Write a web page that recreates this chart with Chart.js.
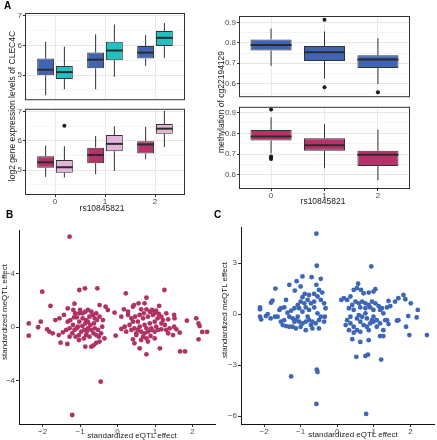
<!DOCTYPE html>
<html><head><meta charset="utf-8">
<script src="https://cdn.jsdelivr.net/npm/chart.js@4.4.1/dist/chart.umd.min.js"></script>
<style>
html,body{margin:0;padding:0;background:#fff;width:437px;height:440px;overflow:hidden;font-family:"Liberation Sans",Arial,sans-serif;}
.c{position:absolute;}
.t{position:absolute;white-space:nowrap;color:#1a1a1a;font-size:8.5px;line-height:1;}
.rot{transform:translate(-50%,-50%) rotate(-90deg);}
.hc{transform:translate(-50%,-50%);}
.lab{position:absolute;font-weight:bold;font-size:10px;line-height:1;color:#000;}
</style></head><body>
<div class="c" style="left:0;top:0;width:190px;height:106px"><canvas id="aTop"></canvas></div>
<div class="c" style="left:0;top:103px;width:190px;height:117px"><canvas id="aBot"></canvas></div>
<div class="c" style="left:215px;top:0;width:222px;height:103px"><canvas id="rTop"></canvas></div>
<div class="c" style="left:215px;top:101px;width:222px;height:119px"><canvas id="rBot"></canvas></div>
<div class="c" style="left:0;top:220px;width:218px;height:220px"><canvas id="sB"></canvas></div>
<div class="c" style="left:218px;top:220px;width:219px;height:220px"><canvas id="sC"></canvas></div>

<div class="lab" style="left:4px;top:1px">A</div>
<div class="lab" style="left:6px;top:210px">B</div>
<div class="lab" style="left:214px;top:210px">C</div>
<div class="t rot" style="left:12px;top:106px">log2 gene expression levels of CLEC4C</div>
<div class="t rot" style="left:221px;top:102px">methylation of cg22194129</div>
<div class="t hc" style="left:102px;top:208px">rs10845821</div>
<div class="t hc" style="left:323px;top:201px">rs10845821</div>
<div class="t rot" style="left:5px;top:312px;font-size:8px">standardized meQTL effect</div>
<div class="t rot" style="left:225px;top:310px;font-size:8px">standardized meQTL effect</div>
<div class="t hc" style="left:132px;top:436px;font-size:8px">standardized eQTL effect</div>
<div class="t hc" style="left:353px;top:435px;font-size:8px">standardized eQTL effect</div>

<script>
// ---------- data ----------
const genotypes = [0, 1, 2];
const genoLabels = ['0', '1', '2'];
// box stats per genotype: [lower whisker, Q1, median, Q3, upper whisker]
const exprTopBlue = [[4.32,4.99,5.18,5.56,6.13],[4.52,5.23,5.52,5.76,6.38],[5.31,5.56,5.76,5.98,6.35]];
const exprTopTeal = [[4.52,4.87,5.10,5.31,5.96],[4.94,5.50,5.83,6.13,6.71],[5.58,5.98,6.26,6.49,6.76]];
const exprBotMagenta = [[4.77,5.08,5.27,5.48,5.84],[4.86,5.24,5.52,5.77,6.17],[5.37,5.57,5.88,5.99,6.48]];
const exprBotPink = [[4.75,4.91,5.10,5.35,5.82],[4.97,5.65,5.90,6.20,6.50],[5.79,6.25,6.42,6.58,7.03]];
const exprBotPinkOutliers = [[6.52],[],[]];
const methTopBlue = [[0.687,0.762,0.789,0.817,0.870],[0.624,0.711,0.754,0.784,0.856],[0.598,0.676,0.718,0.739,0.823]];
const methTopBlueOutliers = [[],[0.914,0.582],[0.557]];
const methBotMagenta = [[0.703,0.765,0.785,0.816,0.877],[0.631,0.716,0.742,0.776,0.845],[0.573,0.642,0.696,0.716,0.818]];
const methBotMagentaOutliers = [[0.915,0.688,0.682,0.676],[],[]];
const exprTicks = [5, 6, 7];
const exprMinor = [4.5, 5.5, 6.5];
const methTicks = [0.6, 0.7, 0.8, 0.9];
const methMinor = [0.55, 0.65, 0.75, 0.85];
const effTicks = [-2, -1, 0, 1, 2];
const effTickLabels = ['\u22122', '\u22121', '0', '1', '2'];
const bYTicks = [-4, 0, 4];
const bYTickLabels = ['\u22124', '0', '\u22124'];
const cYTicks = [-6, -3, 0, 3];
const cYTickLabels = ['\u22126', '\u22123', '0', '3'];
// [standardized eQTL effect, standardized meQTL effect]
const bPoints = [
[-1.28,6.74],[-0.45,-4.08],[-1.21,-6.57],
[-2.01,2.64],[-1.02,2.76],[-0.87,2.89],[-0.54,2.89],[0.22,2.51],[1.25,2.76],[0.77,2.19],
[-1.79,1.57],[-2.37,0.27],[-2.37,-0.65],[-2.12,-0.02],[-2.05,0.4],
[1.85,0.47],[2.1,0.65],[2.16,0.27],[2.19,0.07],[2.26,-0.37],[2.39,-0.37],[2.16,-0.92],[1.67,-1.82],[1.8,-1.82],[0.77,-2.04],[1.13,-1.59],[0.59,-1.59],
[-1.52,-1.17],[-1.34,-1.27],[-0.86,-1.47],[-0.64,-1.37],[-0.57,-1.19],
[-1.88,-0.17],[-1.82,-0.35],[-1.73,-0.47],[-1.66,0.52],[-1.55,0.65],[-1.43,0.9],[-1.46,-0.4],[-1.57,-0.6],[-1.33,1.39],[-1.18,1.27],
[-1.26,0.52],[-1.19,0.15],[-1.13,1.02],[-1.09,0.72],[-1.02,1.02],[-0.93,1.02],[-0.86,1.14],[-0.79,1.27],[-0.7,1.14],[-0.66,0.9],
[-0.75,0.77],[-0.84,0.52],[-0.93,0.65],[-1.02,0.4],[-1.06,0.02],[-1.15,-0.22],[-1.21,-0.47],[-1.12,-0.72],[-1.03,-0.6],[-0.97,-0.35],
[-0.88,-0.22],[-0.79,-0.1],[-0.7,-0.22],[-0.64,-0.47],[-0.57,-0.6],[-0.5,-0.72],[-0.44,-0.47],[-0.35,-0.85],[-0.48,-1.09],[-0.7,-1.47],
[-0.48,1.64],[-0.32,1.52],[-0.26,1.27],[-0.08,1.07],[-0.05,-0.65],[-0.57,1.02],[-0.48,0.77],[-0.39,0.52],[-0.55,0.52],[-0.63,0.27],
[-0.73,0.15],[-0.86,0.27],[-0.94,0.07],[-1.09,-0.1],[-1.28,-0.1],[-1.37,-0.22],[-1.28,-0.72],[-0.84,-0.6],[-0.75,-0.72],[-0.9,-0.85],
[-1.03,-0.97],[-0.82,-0.35],[-0.61,-0.1],[-0.52,-0.22],[-0.41,0.02],[-1.16,0.72],[-1.33,0.4],[-1.0,1.27],[-0.79,0.4],[-0.61,0.65],[-1.15,1.74],
[0.17,1.32],[0.1,0.77],[0.28,1.14],[0.41,1.52],[0.44,1.64],[0.56,1.77],[0.72,1.77],[0.63,1.32],[0.77,1.32],[0.92,1.27],[1.03,1.22],
[1.11,1.57],[1.1,0.97],[0.28,0.9],[0.37,0.65],[0.47,0.77],[0.59,0.9],[0.68,0.65],[0.81,0.77],[0.94,0.9],[1.07,0.65],[1.21,0.52],
[1.35,0.57],[1.51,0.9],[1.52,0.65],[0.45,-1.22],[0.41,-0.92],[0.5,-0.6],[0.23,-0.35],[0.1,-0.15],[0.19,0.02],[0.32,0.15],[0.37,-0.22],
[0.45,-0.1],[0.54,-0.22],[0.63,-0.35],[0.72,-0.47],[0.81,-0.35],[0.9,-0.22],[0.99,-0.35],[1.08,-0.22],[1.17,-0.17],[1.3,-0.22],[1.39,-0.1],
[1.51,0.02],[1.57,-0.17],[1.66,-0.42],[1.48,-0.6],[1.35,-0.47],[0.68,-0.72],[0.77,-0.85],[0.88,-0.67],[0.99,-0.85],[0.63,-0.97],[0.81,-1.09],
[0.59,0.02],[0.72,0.15],[0.86,0.27],[0.99,0.4],[1.17,0.27],[1.26,0.15],[0.54,0.4],[0.41,0.4],[0.7,1.02],[0.86,1.14],[0.99,1.02],
[1.17,0.77],[1.3,1.02],[1.03,0.02],[0.9,-0.1],[0.77,-0.1],[0.5,-0.47]
];
const cPoints = [
[-0.57,4.73],[-0.56,2.84],[0.93,2.8],[-0.56,-3.27],[-0.54,-3.41],[-1.26,-3.67],[-0.57,-5.29],[0.79,-5.88],
[0.52,-2.52],[0.77,-2.47],[0.84,-2.39],[1.2,-2.68],[2.45,-1.24],[1.97,-1.24],[1.17,-1.3],[1.26,-1.3],[0.63,-1.64],[0.41,-1.48],[0.86,-1.54],
[1.88,-0.75],[2.17,-0.2],[2.2,0.24],[2.01,0.63],[1.94,-0.12],[1.81,1.12],[1.86,0.87],[1.67,0.93],[1.58,0.73],[1.45,0.47],[1.36,0.39],
[1.4,0.77],[1.67,-0.36],[1.63,-0.39],[1.4,-0.59],[1.36,-0.36],
[-2.11,0.39],[-2.11,0.28],[-2.11,-0.16],[-2.08,-0.32],[-1.95,-0.12],[-1.9,0],[-1.82,-0.26],[-1.81,0.67],[-1.77,0.79],[-1.69,1.5],
[-1.7,-0.16],[-1.63,-0.16],[-1.58,0.24],[-1.54,0.34],[-1.45,0.39],[-1.4,0.83],[-1.31,1.72],[-1.11,1.93],[-0.95,2.21],[-0.7,2.17],
[-0.45,2.07],[-0.57,1.72],[-0.5,1.42],[-0.41,1.26],[-1.0,1.62],[-1.16,1.38],[-1.49,-0.65],[-1.4,-0.71],[-1.31,-0.75],[-1.22,-0.75],
[-1.13,-0.85],[-0.86,-0.95],[-0.68,-0.85],[-0.5,-0.85],[-0.36,-0.45],[-0.34,-0.16],[-0.32,0.34],[-0.36,0.63],[-0.45,0.83],[-0.54,1.03],
[-0.63,1.18],[-0.77,1.12],[-0.89,1.18],[-0.95,0.99],[-1.0,0.73],[-1.08,0.53],[-1.17,0.34],[-1.26,0.2],[-1.36,0.08],[-1.31,-0.16],
[-1.22,-0.26],[-1.13,-0.36],[-1.04,-0.45],[-0.95,-0.55],[-0.86,-0.45],[-0.77,-0.36],[-0.68,-0.45],[-0.59,-0.55],[-0.5,-0.36],[-0.45,-0.16],
[-0.54,0.04],[-0.63,0.39],[-0.72,0.63],[-0.81,0.83],[-0.63,0.73],[-0.86,0.39],[-0.95,0.14],[-1.08,-0.16],[-0.81,-0.16],[-0.72,-0.65],
[-1.0,-0.75],[-1.17,-0.45],[-1.45,-0.36],[-1.54,-0.45],[-0.9,0.63],[-1.04,0.34],[-0.77,0.24],
[0.11,0.83],[0.18,0.93],[0.27,0.83],[0.36,1.03],[0.45,1.42],[0.54,1.52],[0.57,1.78],[0.65,1.42],[0.72,1.22],[0.86,1.26],[0.99,1.32],
[1.04,1.46],[0.32,0.34],[0.41,0.53],[0.5,0.73],[0.59,0.63],[0.68,0.73],[0.77,0.63],[0.86,0.53],[0.95,0.73],[1.04,0.63],[1.13,0.47],
[1.22,0.34],[0.63,0.39],[0.77,0.34],[0.9,0.39],[0.99,0.24],[0.27,-0.36],[0.36,-0.55],[0.45,-0.75],[0.54,-0.95],[0.63,-0.45],[0.72,-0.65],
[0.81,-0.75],[0.9,-0.55],[0.99,-0.45],[1.08,-0.36],[1.17,-0.55],[0.54,-0.26],[0.68,-0.16],[0.81,-0.26],[0.95,-0.36],[0.36,-0.16],
[0.23,-0.65],[0.45,-1.1],[0.63,-1.05],[0.86,-0.95],[1.26,-0.95],[1.31,-0.36],[1.26,0.04],[1.17,0.24],[0.45,0.24],[0.77,0.04],
[0.59,-0.06],[0.99,-0.16],[1.08,-0.75],[0.32,-0.95]
];

// ---------- style ----------
const FONT = "'Liberation Sans', Arial, sans-serif";
Chart.defaults.font.family = FONT;
Chart.defaults.font.size = 8;
Chart.defaults.color = '#4d4d4d';
Chart.defaults.animation = false;

const isIn = (arr, v) => arr.some(m => Math.abs(m - v) < 1e-6);

const frame = {
  id: 'frame',
  afterDraw(chart) {
    const {ctx, chartArea: a} = chart;
    ctx.save();
    ctx.strokeStyle = '#333';
    ctx.lineWidth = 1;
    ctx.strokeRect(a.left + 0.5, a.top + 0.5, a.right - a.left - 1, a.bottom - a.top - 1);
    ctx.restore();
  }
};

const boxExtras = {
  id: 'boxExtras',
  afterDatasetsDraw(chart) {
    const {ctx} = chart;
    const ys = chart.scales.y;
    chart.data.datasets.forEach((ds, i) => {
      if (!ds.stats) return;
      const meta = chart.getDatasetMeta(i);
      meta.data.forEach((el, j) => {
        const s = ds.stats[j];
        const p = el.getProps(['x', 'width'], true);
        ctx.save();
        ctx.strokeStyle = '#333';
        ctx.lineWidth = 1;
        ctx.beginPath();
        ctx.moveTo(p.x, ys.getPixelForValue(s[3]));
        ctx.lineTo(p.x, ys.getPixelForValue(s[4]));
        ctx.moveTo(p.x, ys.getPixelForValue(s[1]));
        ctx.lineTo(p.x, ys.getPixelForValue(s[0]));
        ctx.stroke();
        ctx.lineWidth = 2;
        ctx.strokeStyle = '#2b2b2b';
        ctx.beginPath();
        const my = ys.getPixelForValue(s[2]);
        ctx.moveTo(p.x - p.width / 2, my);
        ctx.lineTo(p.x + p.width / 2, my);
        ctx.stroke();
        const outs = (ds.outliers && ds.outliers[j]) || [];
        ctx.fillStyle = '#1a1a1a';
        outs.forEach(v => {
          ctx.beginPath();
          ctx.arc(p.x, ys.getPixelForValue(v), 2, 0, Math.PI * 2);
          ctx.fill();
        });
        ctx.restore();
      });
    });
  }
};

function boxChart(id, series, yMin, yMax, major, minor, opt) {
  const majLabels = major.map(v => String(v));
  return new Chart(document.getElementById(id), {
    type: 'bar',
    data: {
      datasets: series.map(s => ({
        data: genotypes.map((g, j) => ({x: g, y: [s.stats[j][1], s.stats[j][3]]})),
        stats: s.stats,
        outliers: s.outliers,
        backgroundColor: s.color,
        borderColor: '#333',
        borderWidth: 1,
        borderSkipped: false,
        categoryPercentage: opt.cat,
        barPercentage: opt.bar
      }))
    },
    options: {
      responsive: true, maintainAspectRatio: false, animation: false,
      layout: {padding: opt.pad},
      plugins: {legend: {display: false}, tooltip: {enabled: false}},
      scales: {
        x: {
          type: 'linear', min: -0.6, max: 2.6, offset: false,
          afterBuildTicks: s => { s.ticks = genotypes.map(v => ({value: v})); },
          afterFit: s => { s.height = opt.xh; },
          grid: {offset: false, color: '#e9e9e9', drawTicks: opt.showX, tickLength: 2, tickColor: '#333'},
          border: {display: false},
          ticks: {display: opt.showX, padding: 0, autoSkip: false, maxRotation: 0,
                  callback: (v, i) => genoLabels[i], font: {size: 8}, color: '#4d4d4d'}
        },
        y: {
          min: yMin, max: yMax,
          afterBuildTicks: s => { s.ticks = major.concat(minor).sort((a, b) => a - b).map(v => ({value: v})); },
          afterFit: s => { s.width = opt.yw; },
          grid: {
            color: c => isIn(major, c.tick.value) ? '#e6e6e6' : '#f4f4f4',
            tickLength: 2,
            tickColor: c => isIn(major, c.tick.value) ? '#333' : 'rgba(0,0,0,0)'
          },
          border: {display: false},
          ticks: {padding: 1, autoSkip: false, font: {size: 8}, color: '#4d4d4d',
                  callback: v => { const k = major.findIndex(m => Math.abs(m - v) < 1e-6); return k >= 0 ? majLabels[k] : ''; }}
        }
      }
    },
    plugins: [boxExtras, frame]
  });
}

const blue = '#3e64b2', teal = '#21c0c2', magenta = '#b6336a', pink = '#e3b4d8';

boxChart('aTop', [{stats: exprTopBlue, color: blue}, {stats: exprTopTeal, color: teal}],
  4.15, 7.1, exprTicks, exprMinor,
  {cat: 0.75, bar: 0.9, pad: {top: 13, right: 5, bottom: 3, left: 0}, xh: 0, yw: 25, showX: false});
boxChart('aBot', [{stats: exprBotMagenta, color: magenta}, {stats: exprBotPink, outliers: exprBotPinkOutliers, color: pink}],
  4.15, 7.1, exprTicks, exprMinor,
  {cat: 0.75, bar: 0.9, pad: {top: 2, right: 5, bottom: 0, left: 0}, xh: 25, yw: 25, showX: true});
boxChart('rTop', [{stats: methTopBlue, outliers: methTopBlueOutliers, color: blue}],
  0.533, 0.932, methTicks, methMinor,
  {cat: 0.8, bar: 0.96, pad: {top: 16, right: 27, bottom: 2, left: 0}, xh: 0, yw: 24, showX: false});
boxChart('rBot', [{stats: methBotMagenta, outliers: methBotMagentaOutliers, color: magenta}],
  0.531, 0.928, methTicks, methMinor,
  {cat: 0.8, bar: 0.96, pad: {top: 2, right: 27, bottom: 0, left: 0}, xh: 31, yw: 24, showX: true});

function scatterChart(id, pts, color, xr, yr, yTicks, yLabels, opt) {
  return new Chart(document.getElementById(id), {
    type: 'scatter',
    data: {datasets: [{
      data: pts.map(p => ({x: p[0], y: p[1]})),
      backgroundColor: color, borderWidth: 0, pointRadius: 2.4, pointHoverRadius: 2.4
    }]},
    options: {
      responsive: true, maintainAspectRatio: false, animation: false,
      layout: {padding: opt.pad},
      plugins: {legend: {display: false}, tooltip: {enabled: false}},
      scales: {
        x: {
          type: 'linear', min: xr[0], max: xr[1],
          afterBuildTicks: s => { s.ticks = effTicks.map(v => ({value: v})); },
          afterFit: s => { s.height = 16; },
          grid: {drawOnChartArea: false, tickLength: 3, color: '#333'},
          border: {color: '#111', width: 1},
          ticks: {padding: 0, autoSkip: false, maxRotation: 0, callback: (v, i) => effTickLabels[i], font: {size: 8}, color: '#4d4d4d'}
        },
        y: {
          min: yr[0], max: yr[1],
          afterBuildTicks: s => { s.ticks = yTicks.map(v => ({value: v})); },
          afterFit: s => { s.width = opt.yw; },
          grid: {drawOnChartArea: false, tickLength: 3, color: '#333'},
          border: {color: '#111', width: 1},
          ticks: {padding: 1, autoSkip: false, callback: (v, i) => yLabels[i], font: {size: 8}, color: '#4d4d4d'}
        }
      }
    }
  });
}

scatterChart('sB', bPoints, '#b03264', [-2.63, 2.6], [-7.24, 7.24], bYTicks, bYTickLabels,
  {pad: {top: 10, right: 3, bottom: 0, left: 0}, yw: 19});
scatterChart('sC', cPoints, '#3d67b6', [-2.63, 2.66], [-6.47, 5.12], cYTicks, cYTickLabels,
  {pad: {top: 7, right: 1, bottom: 0, left: 0}, yw: 23});
</script>
</body></html>
